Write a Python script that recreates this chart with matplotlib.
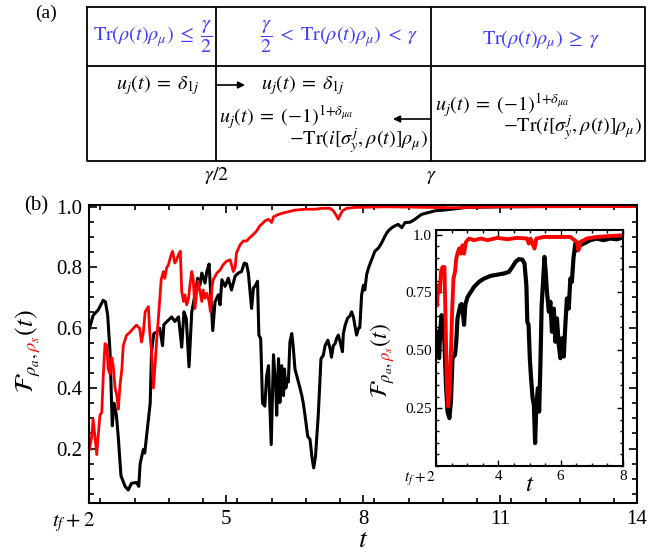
import matplotlib
matplotlib.use("Agg")
import matplotlib.pyplot as plt
from matplotlib.ticker import MultipleLocator
from matplotlib.transforms import Bbox, ScaledTranslation

plt.rcParams["font.family"] = "serif"
plt.rcParams["font.serif"] = ["Liberation Serif", "DejaVu Serif"]
plt.rcParams["mathtext.fontset"] = "stix"

W, H = 672, 556
BLUE = "#3c3cff"
RED = "#ff0000"

# main panel (b): fidelity of rho_a (black) and rho_s (red)
main_t_a = [2.01, 2.09, 2.2, 2.31, 2.36, 2.41, 2.46, 2.51, 2.55, 2.6, 2.64, 2.70, 2.79, 2.86,
            2.93, 3.04, 3.09, 3.12, 3.19, 3.22, 3.26, 3.34, 3.37, 3.42, 3.48, 3.55, 3.61, 3.64,
            3.74, 3.81, 3.88, 3.96, 4.03, 4.08, 4.13, 4.19, 4.25, 4.32, 4.38, 4.43, 4.47, 4.54,
            4.58, 4.63, 4.67, 4.71, 4.76, 4.83, 4.87, 4.91, 4.98, 5.05, 5.12, 5.2, 5.27, 5.34,
            5.4, 5.45, 5.49, 5.52, 5.56, 5.6, 5.65, 5.69, 5.72, 5.76, 5.80, 5.85, 5.89, 5.93,
            5.99, 6.04, 6.09, 6.11, 6.15, 6.18, 6.22, 6.26, 6.28, 6.31, 6.34, 6.365, 6.4, 6.44,
            6.47, 6.51, 6.55, 6.62, 6.66, 6.69, 6.73, 6.79, 6.84, 6.88, 6.92, 6.96, 7.02, 7.08,
            7.13, 7.17, 7.23, 7.28, 7.31, 7.35, 7.39, 7.42, 7.46, 7.5, 7.55, 7.57, 7.61, 7.66,
            7.72, 7.75, 7.79, 7.82, 7.86, 7.9, 7.93, 7.97, 8.01, 8.04, 8.08, 8.12, 8.19, 8.26,
            8.34, 8.41, 8.48, 8.55, 8.63, 8.7, 8.77, 8.85, 8.92, 9.03, 9.14, 9.28, 9.43, 9.58,
            9.76, 10.27, 11.0, 12.0, 14.0]
main_f_a = [0.597, 0.64, 0.658, 0.69, 0.685, 0.64, 0.52, 0.275, 0.35, 0.31, 0.24, 0.11, 0.075, 0.063,
            0.085, 0.088, 0.075, 0.15, 0.197, 0.185, 0.24, 0.35, 0.52, 0.58, 0.585, 0.597, 0.54, 0.61,
            0.625, 0.635, 0.62, 0.635, 0.535, 0.652, 0.63, 0.47, 0.652, 0.708, 0.763, 0.74, 0.78, 0.747,
            0.785, 0.81, 0.697, 0.59, 0.685, 0.708, 0.675, 0.758, 0.736, 0.763, 0.724, 0.77, 0.78, 0.785,
            0.813, 0.81, 0.78, 0.73, 0.663, 0.73, 0.74, 0.753, 0.575, 0.563, 0.35, 0.34, 0.44, 0.474,
            0.213, 0.51, 0.4, 0.31, 0.497, 0.352, 0.474, 0.375, 0.463, 0.4, 0.43, 0.42, 0.552, 0.58,
            0.54, 0.463, 0.44, 0.4, 0.375, 0.352, 0.31, 0.24, 0.23, 0.174, 0.136, 0.174, 0.31, 0.497,
            0.508, 0.54, 0.558, 0.53, 0.502, 0.54, 0.547, 0.563, 0.575, 0.552, 0.52, 0.58, 0.608, 0.63,
            0.64, 0.652, 0.635, 0.608, 0.575, 0.597, 0.6, 0.708, 0.74, 0.724, 0.775, 0.797, 0.824, 0.852,
            0.863, 0.88, 0.902, 0.919, 0.93, 0.936, 0.941, 0.93, 0.947, 0.948, 0.958, 0.974, 0.98, 0.986,
            0.988, 0.997, 0.999, 1.0, 1.0]

main_t_s = [2.01, 2.06, 2.09, 2.13, 2.17, 2.2, 2.24, 2.28, 2.31, 2.35, 2.39, 2.42, 2.46, 2.5,
            2.53, 2.57, 2.61, 2.64, 2.68, 2.72, 2.75, 2.82, 2.9, 2.97, 3.04, 3.11, 3.15, 3.19,
            3.23, 3.3, 3.33, 3.37, 3.41, 3.45, 3.49, 3.53, 3.58, 3.63, 3.66, 3.7, 3.74, 3.8,
            3.83, 3.88, 3.92, 3.96, 4.0, 4.03, 4.07, 4.1, 4.14, 4.18, 4.21, 4.25, 4.28, 4.32,
            4.36, 4.39, 4.43, 4.47, 4.5, 4.54, 4.58, 4.63, 4.66, 4.69, 4.72, 4.8, 4.87, 4.94,
            5.01, 5.09, 5.12, 5.16, 5.2, 5.23, 5.31, 5.38, 5.45, 5.52, 5.6, 5.67, 5.74, 5.82,
            5.85, 5.93, 6.0, 6.04, 6.15, 6.29, 6.51, 6.73, 6.95, 7.1, 7.28, 7.35, 7.42, 7.46,
            7.49, 7.55, 7.64, 7.82, 8.5, 9.5, 10.0, 11.0, 14.0]
main_f_s = [0.197, 0.24, 0.297, 0.24, 0.18, 0.24, 0.31, 0.32, 0.43, 0.547, 0.54, 0.463, 0.447, 0.5,
            0.474, 0.4, 0.375, 0.33, 0.41, 0.463, 0.54, 0.574, 0.585, 0.597, 0.608, 0.597, 0.552, 0.585,
            0.652, 0.669, 0.585, 0.52, 0.4, 0.485, 0.574, 0.652, 0.758, 0.785, 0.763, 0.797, 0.808, 0.841,
            0.852, 0.813, 0.824, 0.841, 0.852, 0.72, 0.686, 0.708, 0.675, 0.697, 0.74, 0.785, 0.763, 0.663,
            0.72, 0.753, 0.72, 0.686, 0.724, 0.697, 0.713, 0.686, 0.652, 0.73, 0.758, 0.78, 0.79, 0.808,
            0.819, 0.824, 0.808, 0.785, 0.8, 0.847, 0.874, 0.886, 0.886, 0.897, 0.908, 0.919, 0.936, 0.947,
            0.952, 0.958, 0.947, 0.966, 0.974, 0.98, 0.988, 0.991, 0.991, 0.994, 0.994, 0.986, 0.969, 0.958,
            0.969, 0.986, 0.994, 0.997, 0.999, 0.997, 0.996, 0.999, 1.0]

# inset
ins_t_a = [2.03, 2.07, 2.1, 2.14, 2.18, 2.22, 2.27, 2.32, 2.37, 2.43, 2.48, 2.53, 2.61, 2.65,
           2.69, 2.78, 2.82, 2.86, 2.9, 2.94, 3.01, 3.12, 3.22, 3.38, 3.54, 3.76, 3.97, 4.18,
           4.34, 4.45, 4.55, 4.66, 4.77, 4.84, 4.9, 4.93, 4.97, 5.01, 5.05, 5.1, 5.14, 5.18,
           5.22, 5.27, 5.31, 5.35, 5.39, 5.44, 5.48, 5.52, 5.56, 5.62, 5.67, 5.72, 5.78, 5.83,
           5.88, 5.94, 5.99, 6.04, 6.1, 6.15, 6.2, 6.26, 6.31, 6.36, 6.41, 6.47, 6.52, 6.63,
           6.73, 6.84, 6.95, 7.16, 7.37, 7.59, 7.8, 7.96]
ins_f_a = [0.58, 0.523, 0.466, 0.595, 0.652, 0.61, 0.537, 0.35, 0.235, 0.207, 0.28, 0.466, 0.48, 0.537,
           0.638, 0.695, 0.7, 0.667, 0.61, 0.695, 0.73, 0.753, 0.774, 0.796, 0.81, 0.822, 0.827, 0.832,
           0.839, 0.86, 0.882, 0.894, 0.892, 0.875, 0.78, 0.623, 0.61, 0.466, 0.38, 0.293, 0.264, 0.099,
           0.264, 0.336, 0.235, 0.437, 0.695, 0.81, 0.904, 0.839, 0.753, 0.667, 0.71, 0.58, 0.68, 0.537,
           0.638, 0.523, 0.466, 0.552, 0.473, 0.61, 0.724, 0.68, 0.81, 0.796, 0.897, 0.961, 0.932, 0.954,
           0.961, 0.968, 0.976, 0.983, 0.976, 0.983, 0.98, 0.986]

ins_t_s = [2.03, 2.07, 2.12, 2.16, 2.21, 2.27, 2.31, 2.35, 2.39, 2.44, 2.48, 2.52, 2.56, 2.61,
           2.65, 2.69, 2.74, 2.8, 2.85, 2.9, 2.96, 3.06, 3.22, 3.44, 3.65, 3.97, 4.29, 4.6,
           4.92, 4.98, 5.03, 5.16, 5.22, 5.46, 5.88, 6.31, 6.52, 6.57, 6.63, 6.84, 7.16, 7.59, 7.96]
ins_f_s = [0.695, 0.78, 0.753, 0.839, 0.86, 0.86, 0.61, 0.35, 0.257, 0.35, 0.494, 0.68, 0.81, 0.839,
           0.897, 0.918, 0.94, 0.918, 0.954, 0.918, 0.968, 0.983, 0.976, 0.983, 0.976, 0.986, 0.98, 0.986,
           0.983, 0.961, 0.983, 0.94, 0.983, 0.99, 0.99, 0.99, 0.968, 0.932, 0.968, 0.983, 0.99, 0.994, 0.997]

main_xticks = [2, 5, 8, 11, 14]
main_xlabels = [r"$t_f + 2$", "5", "8", "11", "14"]
main_yticks = [0.2, 0.4, 0.6, 0.8, 1.0]
ins_xticks = [2, 4, 6, 8]
ins_xlabels = [r"$t_f + 2$", "4", "6", "8"]
ins_yticks = [0.25, 0.5, 0.75, 1.0]
ins_ylabels = ["0.25", "0.50", "0.75", "1.0"]

label_full = r"$\mathcal{F}_{\rho_a,\rho_s}(t)$"
label_cuts = [r"$\mathcal{F}_{\rho_a,}$", r"$\mathcal{F}_{\rho_a,\rho_s}$"]
label_colours = ["black", RED, "black"]

U_RULE = r"$u_j(t)\;=\;\delta_{1j}$"
U_FLIP = r"$u_j(t)\;=\;(-1)^{1{+}\delta_{\mu a}}$"
U_TRACE = r"$-\mathrm{Tr}(i[\sigma_y^j, \rho(t)]\rho_\mu)$"


def colour_ylabel(fig, cx, cy, size):
    # vertical label whose middle part is red: three clipped copies of one string
    renderer = fig.canvas.get_renderer()
    cuts = []
    for s in label_cuts + [label_full]:
        probe = fig.text(0, 0, s, fontsize=size)
        cuts.append(probe.get_window_extent(renderer).width)
        probe.remove()
    total = cuts[-1]
    y0 = (H - cy) - total / 2
    edges = [-1e4] + [y0 + c for c in cuts[:-1]] + [1e4]
    for k, colour in enumerate(label_colours):
        t = fig.text(cx / W, y0 / H, label_full, fontsize=size, rotation=90,
                     rotation_mode="anchor", ha="left", va="center", color=colour)
        t.set_clip_box(Bbox([[-1e4, edges[k]], [1e4, edges[k + 1]]]))
        t.set_clip_on(True)


def style_axes(ax, major, minor, width):
    ax.tick_params(which="both", direction="in", top=True, right=True, width=width)
    ax.tick_params(which="major", length=major)
    ax.tick_params(which="minor", length=minor)
    for sp in ax.spines.values():
        sp.set_linewidth(1.5)


fig = plt.figure(figsize=(W / 100, H / 100), dpi=100)

# ---- panel (a): the control table, drawn in pixel coordinates ----
tab = fig.add_axes([0, 0, 1, 1])
tab.set_xlim(0, W)
tab.set_ylim(H, 0)
tab.axis("off")
x_l, x_1, x_2, x_r = 87, 216, 431, 645
y_t, y_m, y_b = 7, 66, 161
tab.plot([x_l, x_r, x_r, x_l, x_l], [y_t, y_t, y_b, y_b, y_t], color="black", lw=1.3)
tab.plot([x_l, x_r], [y_m, y_m], color="black", lw=1.3)
tab.plot([x_1, x_1], [y_t, y_b], color="black", lw=1.3)
tab.plot([x_2, x_2], [y_t, y_b], color="black", lw=1.3)

fs = 14.5
tab.text(153, 37, r"$\mathrm{Tr}(\rho(t)\rho_\mu)\;\leq\;\dfrac{\gamma}{2}$", color=BLUE,
         fontsize=fs, ha="center", va="center")
tab.text(339, 37, r"$\dfrac{\gamma}{2}\;<\;\mathrm{Tr}(\rho(t)\rho_\mu)\;<\;\gamma$", color=BLUE,
         fontsize=fs, ha="center", va="center")
tab.text(541, 40, r"$\mathrm{Tr}(\rho(t)\rho_\mu)\;\geq\;\gamma$", color=BLUE,
         fontsize=fs, ha="center", va="center")

tab.text(116, 85, U_RULE, fontsize=fs, ha="left", va="center")
tab.text(261, 85, U_RULE, fontsize=fs, ha="left", va="center")
tab.text(219, 117, U_FLIP, fontsize=fs, ha="left", va="center")
tab.text(428, 141, U_TRACE, fontsize=fs, ha="right", va="center")
tab.text(435, 105, U_FLIP, fontsize=fs, ha="left", va="center")
tab.text(642, 128, U_TRACE, fontsize=fs, ha="right", va="center")
tab.annotate("", xy=(245, 85), xytext=(x_1, 85),
             arrowprops=dict(arrowstyle="-|>", color="black", lw=1.2, mutation_scale=10,
                             shrinkA=0, shrinkB=0))
tab.annotate("", xy=(393, 119), xytext=(x_2, 119),
             arrowprops=dict(arrowstyle="-|>", color="black", lw=1.2, mutation_scale=10,
                             shrinkA=0, shrinkB=0))
tab.text(217, 176, r"$\gamma/2$", fontsize=fs, ha="center", va="center")
tab.text(431, 176, r"$\gamma$", fontsize=fs, ha="center", va="center")
tab.text(46, 13, "(a)", fontsize=14, ha="center", va="center")
tab.text(36, 206, "(b)", fontsize=15, ha="center", va="center")

# ---- panel (b) ----
ax = fig.add_axes([89 / W, 1 - 503 / H, 548 / W, 298 / H])
ax.plot(main_t_a, main_f_a, color="black", lw=2.2)
ax.plot(main_t_s, main_f_s, color=RED, lw=2.0)
ax.set_xlim(2, 14)
ax.set_ylim(0.02, 1.005)
ax.set_xticks(main_xticks)
ax.set_xticklabels(main_xlabels)
ax.set_yticks(main_yticks)
ax.set_yticklabels([f"{v:.1f}" for v in main_yticks])
ax.xaxis.set_minor_locator(MultipleLocator(0.75))
ax.yaxis.set_minor_locator(MultipleLocator(0.05))
style_axes(ax, 6, 3.5, 1.2)
ax.tick_params(labelsize=15, pad=5)
first = ax.get_xticklabels()[0]
first.set_ha("right")
first.set_transform(first.get_transform() + ScaledTranslation(6 / 100, 0, fig.dpi_scale_trans))
ax.set_xlabel(r"$t$", fontsize=20, labelpad=-4)

ins = fig.add_axes([436 / W, 1 - 466 / H, 187 / W, 236 / H])
ins.plot(ins_t_a, ins_f_a, color="black", lw=3.0)
ins.plot(ins_t_s, ins_f_s, color=RED, lw=2.8)
ins.set_xlim(2, 8)
ins.set_ylim(0, 1.02)
ins.set_xticks(ins_xticks)
ins.set_xticklabels(ins_xlabels)
ins.set_yticks(ins_yticks)
ins.set_yticklabels(ins_ylabels)
ins.xaxis.set_minor_locator(MultipleLocator(0.5))
ins.yaxis.set_minor_locator(MultipleLocator(0.05))
style_axes(ins, 4.5, 2.5, 1.0)
ins.tick_params(labelsize=11, pad=3)
ins.get_xticklabels()[0].set_ha("right")
ins.set_xlabel(r"$t$", fontsize=18, labelpad=-10)

colour_ylabel(fig, 28, 351, 19)
colour_ylabel(fig, 383, 360, 17)

fig.savefig("out.png", dpi=100)
